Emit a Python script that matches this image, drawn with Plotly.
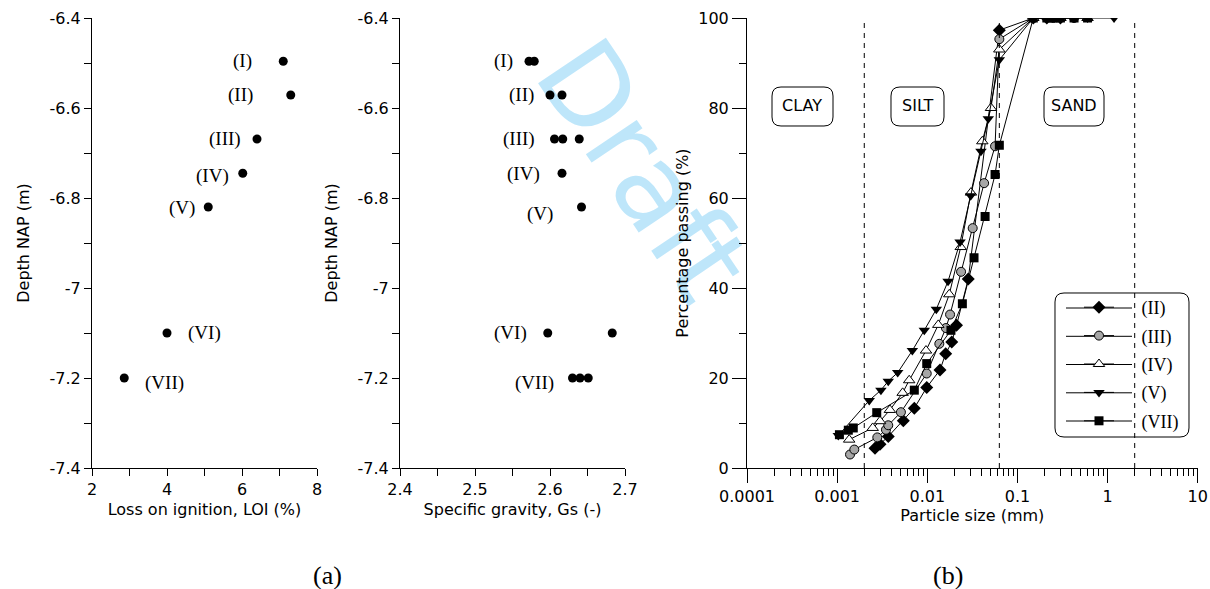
import numpy as np
import plotly.graph_objects as go

W, H = 1210, 589

# ---------------- data ----------------
SAMPLES = ["(I)", "(II)", "(III)", "(IV)", "(V)", "(VI)", "(VII)"]
DEPTH = [-6.496, -6.571, -6.669, -6.745, -6.82, -7.10, -7.20]
LOI = [7.10, 7.30, 6.40, 6.02, 5.10, 4.00, 2.86]

# specific gravity, several determinations per sample
GS_SAMPLE = ["(I)", "(I)", "(II)", "(II)", "(III)", "(III)", "(III)",
             "(IV)", "(V)", "(VI)", "(VI)", "(VII)", "(VII)", "(VII)"]
GS = [2.572, 2.579, 2.600, 2.616, 2.606, 2.617, 2.639,
      2.616, 2.642, 2.597, 2.683, 2.630, 2.640, 2.651]

# particle size distributions (mm, % passing)
D_II = [0.00263, 0.00299, 0.00369, 0.00542, 0.00718, 0.00986, 0.01384, 0.0160,
        0.0187, 0.0211, 0.0285, 0.063, 0.15, 0.212, 0.3]
P_II = [4.4, 5.3, 7.0, 10.5, 13.3, 17.9, 21.8, 25.4, 28.0, 31.7, 42.0, 97.3, 100, 100, 100]

D_III = [0.00139, 0.00155, 0.00279, 0.00348, 0.00369, 0.0051, 0.00986, 0.0136,
         0.0161, 0.0179, 0.0237, 0.0319, 0.0427, 0.0565, 0.063, 0.15, 0.25, 0.425]
P_III = [3.0, 4.1, 6.8, 8.5, 9.5, 12.4, 21.0, 27.6, 31.1, 34.1, 43.6, 53.3, 63.3, 71.5,
         95.3, 100, 100, 100]

D_IV = [0.00136, 0.00248, 0.00299, 0.00385, 0.00533, 0.0063, 0.00968, 0.01324,
        0.01754, 0.0235, 0.0305, 0.0408, 0.0509, 0.063, 0.15, 0.3, 0.6]
P_IV = [6.3, 8.9, 10.4, 12.9, 16.7, 19.5, 26.1, 31.8, 38.6, 49.1, 61.2, 72.6, 80.0,
        93.0, 100, 100, 100]

D_V = [0.00103, 0.00227, 0.00306, 0.00369, 0.0047, 0.00683, 0.00927, 0.0126, 0.0170,
       0.0231, 0.0303, 0.0394, 0.0475, 0.063, 0.15, 0.212, 0.3, 0.6, 1.18]
P_V = [7.2, 15.0, 17.3, 19.3, 21.2, 26.1, 30.6, 35.3, 41.5, 50.2, 60.5, 70.4, 77.6,
       90.7, 100, 100, 100, 100, 100]

D_VII = [0.00106, 0.00133, 0.00151, 0.00275, 0.00718, 0.00986, 0.0183, 0.0245,
         0.0330, 0.0438, 0.0565, 0.063, 0.15, 0.212, 0.25, 0.3, 0.425, 0.6]
P_VII = [7.4, 8.4, 8.9, 12.3, 17.3, 23.2, 30.6, 36.5, 46.7, 55.9, 65.2, 71.7,
         100, 100, 100, 100, 100, 100]

# clay / silt / sand boundaries (mm)
BOUNDARIES = [0.002, 0.063, 2.0]
FRACTIONS = ["CLAY", "SILT", "SAND"]
FRACTION_POS = [0.00041, 0.0078, 0.425]   # label centres (mm)
FRACTION_LEVEL = 80.5                     # label level (% passing)

# tick labels
DEPTH_TICKS = [-6.4, -6.6, -6.8, -7.0, -7.2, -7.4]
DEPTH_TICKTEXT = ["-6.4", "-6.6", "-6.8", "-7", "-7.2", "-7.4"]
LOI_TICKS = [2, 4, 6, 8]
GS_TICKS = [2.4, 2.5, 2.6, 2.7]
GS_TICKTEXT = ["2.4", "2.5", "2.6", "2.7"]
PASS_TICKS = [0, 20, 40, 60, 80, 100]
LOG_TICKS = [0.0001, 0.001, 0.01, 0.1, 1, 10]
LOG_TICKTEXT = ["0.0001", "0.001", "0.01", "0.1", "1", "10"]

# ---------------- styling ----------------
SANS = "DejaVu Sans"
SERIF = "Liberation Serif"
TICKFONT = dict(family=SANS, size=16, color="black")
TITLEFONT = dict(family=SANS, size=16, color="black")
LABELFONT = dict(family=SERIF, size=19, color="black")


def px_x(p):
    return p / W


def px_y(p):
    return 1 - p / H


def rounded_box(x0, y0, x1, y1, r=9):
    """Rounded rectangle path in paper units from pixel corners."""
    X = lambda v: f"{px_x(v):.5f}"
    Y = lambda v: f"{px_y(v):.5f}"
    return (f"M{X(x0 + r)},{Y(y0)} L{X(x1 - r)},{Y(y0)} Q{X(x1)},{Y(y0)} {X(x1)},{Y(y0 + r)} "
            f"L{X(x1)},{Y(y1 - r)} Q{X(x1)},{Y(y1)} {X(x1 - r)},{Y(y1)} "
            f"L{X(x0 + r)},{Y(y1)} Q{X(x0)},{Y(y1)} {X(x0)},{Y(y1 - r)} "
            f"L{X(x0)},{Y(y0 + r)} Q{X(x0)},{Y(y0)} {X(x0 + r)},{Y(y0)} Z")


fig = go.Figure()

# panel (a) left: loss on ignition
fig.add_trace(go.Scatter(x=LOI, y=DEPTH, mode="markers", xaxis="x", yaxis="y",
                         marker=dict(color="black", size=9), showlegend=False))

# panel (a) right: specific gravity
depth_of = dict(zip(SAMPLES, DEPTH))
GS_DEPTH = [depth_of[s] for s in GS_SAMPLE]
fig.add_trace(go.Scatter(x=GS, y=GS_DEPTH, mode="markers", xaxis="x2", yaxis="y2",
                         marker=dict(color="black", size=9), showlegend=False))

# panel (b): grading curves
curves = [
    ("(II)", D_II, P_II, dict(symbol="diamond", color="black", size=10)),
    ("(III)", D_III, P_III, dict(symbol="circle", color="#a6a6a6", size=9,
                                 line=dict(color="black", width=1))),
    ("(IV)", D_IV, P_IV, dict(symbol="triangle-up", color="white", size=10,
                              line=dict(color="black", width=1))),
    ("(V)", D_V, P_V, dict(symbol="triangle-down", color="black", size=10)),
    ("(VII)", D_VII, P_VII, dict(symbol="square", color="black", size=9)),
]
for name, d, p, mk in curves:
    fig.add_trace(go.Scatter(x=d, y=p, name="\u00a0" * 5 + name, mode="lines+markers",
                             xaxis="x3", yaxis="y3", line=dict(color="black", width=1),
                             marker=mk, legendgroup=name))

# fraction boundaries
for b in BOUNDARIES:
    fig.add_trace(go.Scatter(x=[b, b], y=[0, 100], mode="lines", xaxis="x3", yaxis="y3",
                             line=dict(color="black", width=1, dash="5px,5px"),
                             showlegend=False, hoverinfo="skip"))

# ---------------- axes ----------------
ydom = [px_y(468), px_y(18)]
common = dict(showline=True, linecolor="black", linewidth=1, showgrid=False, zeroline=False,
              ticks="outside", tickcolor="black", tickfont=TICKFONT, mirror=False,
              automargin=False)

fig.update_layout(
    xaxis=dict(domain=[px_x(92), px_x(317)], range=[2, 8], tickvals=LOI_TICKS, ticklen=7,
               minor=dict(dtick=1, ticks="outside", ticklen=7, tickcolor="black"),
               title=dict(text="Loss on ignition, LOI (%)", font=TITLEFONT, standoff=5),
               anchor="y", **common),
    yaxis=dict(domain=ydom, range=[-7.4, -6.4], tickvals=DEPTH_TICKS, ticktext=DEPTH_TICKTEXT,
               ticklen=7, minor=dict(dtick=0.1, ticks="outside", ticklen=7, tickcolor="black"),
               title=dict(text="Depth NAP (m)", font=TITLEFONT), anchor="x", **common),
    xaxis2=dict(domain=[px_x(400), px_x(625)], range=[2.4, 2.7], tickvals=GS_TICKS,
                ticktext=GS_TICKTEXT, ticklen=7,
                minor=dict(dtick=0.05, ticks="outside", ticklen=7, tickcolor="black"),
                title=dict(text="Specific gravity, Gs (-)", font=TITLEFONT, standoff=5),
                anchor="y2", **common),
    yaxis2=dict(domain=ydom, range=[-7.4, -6.4], tickvals=DEPTH_TICKS, ticktext=DEPTH_TICKTEXT,
                ticklen=7, minor=dict(dtick=0.1, ticks="outside", ticklen=7, tickcolor="black"),
                title=dict(text="Depth NAP (m)", font=TITLEFONT), anchor="x2", **common),
    xaxis3=dict(domain=[px_x(747), px_x(1197.7)], type="log", range=[-4, 1],
                tickvals=LOG_TICKS, ticktext=LOG_TICKTEXT, ticklen=14,
                minor=dict(tickvals=[k * 10.0 ** e for e in range(-4, 1) for k in range(2, 10)],
                           ticks="outside", ticklen=7, tickcolor="black"),
                title=dict(text="Particle size (mm)", font=TITLEFONT, standoff=4),
                anchor="y3", **common),
    yaxis3=dict(domain=ydom, range=[0, 100], tickvals=PASS_TICKS, ticklen=14,
                minor=dict(dtick=10, ticks="outside", ticklen=7, tickcolor="black"),
                title=dict(text="Percentage passing (%)", font=TITLEFONT, standoff=5),
                anchor="x3", **common),
)

# ---------------- annotations ----------------
annotations = []
LOI_SHIFT = {"(I)": (-41, 0), "(II)": (-50, 0), "(III)": (-32, 0), "(IV)": (-30, -3),
             "(V)": (-26, -1), "(VI)": (37, 0), "(VII)": (40, -5)}
for s, x, y in zip(SAMPLES, LOI, DEPTH):
    dx, dy = LOI_SHIFT[s]
    annotations.append(dict(x=x, y=y, xref="x", yref="y", text=s, showarrow=False,
                            xshift=dx, yshift=dy, font=LABELFONT))

GS_SHIFT = {"(I)": (-26, 0), "(II)": (-29, 0), "(III)": (-36, 0), "(IV)": (-39, -1),
            "(V)": (-42, -7), "(VI)": (-37, 0), "(VII)": (-38, -5)}
for s in SAMPLES:
    xs = [g for g, n in zip(GS, GS_SAMPLE) if n == s]
    dx, dy = GS_SHIFT[s]
    annotations.append(dict(x=min(xs), y=depth_of[s], xref="x2", yref="y2", text=s,
                            showarrow=False, xshift=dx, yshift=dy, font=LABELFONT))

for t, xpos in zip(FRACTIONS, FRACTION_POS):
    annotations.append(dict(x=np.log10(xpos), y=FRACTION_LEVEL, xref="x3", yref="y3", text=t,
                            showarrow=False, font=dict(family=SANS, size=16, color="black")))

for t, cx in (("(a)", 328), ("(b)", 948)):
    annotations.append(dict(x=px_x(cx), y=px_y(575), xref="paper", yref="paper", text=t,
                            xanchor="center", yanchor="middle", showarrow=False,
                            font=dict(family=SERIF, size=26, color="black")))

# ---------------- shapes ----------------
LEGEND_ROWS = [308, 336.3, 364.5, 392.8, 421]   # key rows (px)
shapes = [
    # watermark
    dict(type="rect", xref="paper", yref="paper", x0=px_x(560), x1=px_x(740),
         y0=px_y(270), y1=px_y(60), line=dict(width=0), layer="below",
         label=dict(text="Draft", textangle=56, textposition="middle center",
                    font=dict(family=SANS, size=112, color="rgb(190,230,250)"))),
    # fraction boxes
    dict(type="path", xref="paper", yref="paper", path=rounded_box(772, 87, 833, 126),
         line=dict(color="black", width=1)),
    dict(type="path", xref="paper", yref="paper", path=rounded_box(891, 87, 944, 126),
         line=dict(color="black", width=1)),
    dict(type="path", xref="paper", yref="paper", path=rounded_box(1044, 87, 1104, 126),
         line=dict(color="black", width=1)),
    # legend frame
    dict(type="path", xref="paper", yref="paper", path=rounded_box(1055, 293, 1189, 437),
         line=dict(color="black", width=1)),
]
# longer key lines behind the legend symbols
for yk in LEGEND_ROWS:
    shapes.append(dict(type="line", xref="paper", yref="paper", x0=px_x(1066), x1=px_x(1132),
                       y0=px_y(yk), y1=px_y(yk), line=dict(color="black", width=1),
                       layer="below"))

fig.update_layout(
    width=W, height=H, margin=dict(l=0, r=0, t=0, b=0),
    paper_bgcolor="white", plot_bgcolor="white",
    annotations=annotations, shapes=shapes,
    legend=dict(x=px_x(1079), y=px_y(289), xanchor="left", yanchor="top",
                bgcolor="rgba(0,0,0,0)", borderwidth=0, tracegroupgap=2,
                font=dict(family=SERIF, size=18, color="black")),
    showlegend=True,
)

fig.write_html("out.html")
